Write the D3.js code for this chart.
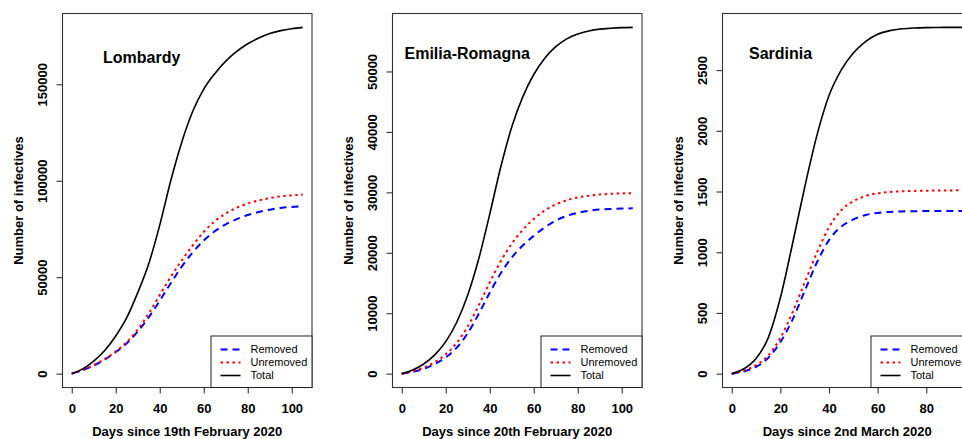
<!DOCTYPE html>
<html>
<head>
<meta charset="utf-8">
<script src="https://cdn.jsdelivr.net/npm/d3@7/dist/d3.min.js"></script>
<style>
    body { margin: 0; background: #fff; }
    svg { display: block; font-family: "Liberation Sans", Arial, sans-serif; }
</style>
</head>
<body>
<svg class="chart"></svg>
<script>
// days since start, sampled every 5 days
var days = [0, 5, 10, 15, 20, 25, 30, 35, 40, 45, 50, 55, 60, 65, 70, 75, 80, 85, 90, 95, 100, 105];
var daysSardinia = [0, 5, 10, 15, 20, 25, 30, 35, 40, 45, 50, 55, 60, 65, 70, 75, 80, 85, 90, 95];

var xTicks = [0, 20, 40, 60, 80, 100];
var legendLabels = ['Removed', 'Unremoved', 'Total'];

var lombardyRemoved = [0, 1800, 4200, 7300, 11200, 15800, 21800, 29200, 37800, 46900, 55500, 62900, 69000, 73800, 77400, 80100, 82200, 83800, 85000, 85900, 86400, 86700];
var lombardyUnremoved = [0, 1900, 4400, 7600, 11500, 16400, 22900, 31200, 40700, 50200, 58700, 66500, 73500, 79000, 83000, 86000, 88200, 89800, 91000, 91900, 92400, 92800];
var lombardyTotal = [0, 2500, 6500, 12000, 19500, 29000, 42000, 57000, 77000, 100000, 120000, 136000, 147500, 155500, 162000, 167000, 171000, 174000, 176300, 177800, 178800, 179500];
var lombardyTicks = [0, 50000, 100000, 150000];

var emiliaRemoved = [0, 300, 800, 1600, 2700, 4300, 6700, 9900, 13400, 16600, 19200, 21200, 22800, 24200, 25300, 26100, 26600, 26950, 27150, 27250, 27320, 27350];
var emiliaUnremoved = [0, 400, 1000, 1900, 3200, 5100, 7800, 11300, 15100, 18600, 21500, 23800, 25600, 27000, 28000, 28700, 29150, 29450, 29650, 29750, 29820, 29870];
var emiliaTotal = [0, 600, 1600, 3100, 5300, 8500, 13000, 19000, 26400, 34200, 40800, 45800, 49500, 52200, 54100, 55400, 56200, 56700, 57000, 57150, 57250, 57300];
var emiliaTicks = [0, 10000, 20000, 30000, 40000, 50000];

var sardiniaRemoved = [0, 18, 55, 130, 260, 445, 680, 915, 1100, 1210, 1270, 1306, 1324, 1332, 1336, 1338, 1339, 1339, 1339, 1339];
var sardiniaUnremoved = [0, 25, 70, 150, 295, 505, 750, 995, 1205, 1345, 1420, 1463, 1485, 1496, 1502, 1505, 1507, 1508, 1509, 1510];
var sardiniaTotal = [0, 40, 125, 295, 625, 1070, 1535, 1960, 2290, 2500, 2640, 2735, 2795, 2825, 2840, 2847, 2850, 2851, 2852, 2852];
var sardiniaTicks = [0, 500, 1000, 1500, 2000, 2500];

var config = {
    width: 962,
    height: 439,
    panelStep: 330,
    left: 62.5,
    top: 13.5,
    plotWidth: 249.5,
    plotHeight: 374
};

// removed, unremoved, total
var seriesStyle = [
    { color: '#0000ff', dash: '7,5', width: 2 },
    { color: '#ff0000', dash: '2.5,3.5', width: 2 },
    { color: '#000000', dash: null, width: 1.6 }
];

var panels = [
    { region: 'Lombardy', xLabel: 'Days since 19th February 2020', days: days,
      series: [lombardyRemoved, lombardyUnremoved, lombardyTotal], yTicks: lombardyTicks, titleX: 40.5, titleY: 49 },
    { region: 'Emilia-Romagna', xLabel: 'Days since 20th February 2020', days: days,
      series: [emiliaRemoved, emiliaUnremoved, emiliaTotal], yTicks: emiliaTicks, titleX: 12, titleY: 45 },
    { region: 'Sardinia', xLabel: 'Days since 2nd March 2020', days: daysSardinia,
      series: [sardiniaRemoved, sardiniaUnremoved, sardiniaTotal], yTicks: sardiniaTicks, titleX: 26.5, titleY: 45 }
];

var svg = d3.select('.chart')
    .attr('width', config.width)
    .attr('height', config.height);

svg.append('rect')
    .attr('width', config.width)
    .attr('height', config.height)
    .attr('fill', '#fff');

panels.forEach(drawPanel);

// R-style 4% padding of the range
function pad(ext) {
    var d = (ext[1] - ext[0]) * 0.04;
    return [ext[0] - d, ext[1] + d];
}

function drawPanel(p, i) {
    var g = svg.append('g')
        .attr('transform', 'translate(' + (config.left + i * config.panelStep) + ',' + config.top + ')');

    var x = d3.scaleLinear()
        .domain(pad(d3.extent(p.days)))
        .range([0, config.plotWidth]);
    var y = d3.scaleLinear()
        .domain(pad([0, d3.max(p.series, function(s) { return d3.max(s); })]))
        .range([config.plotHeight, 0]);

    var line = d3.line()
        .x(function(d, j) { return x(p.days[j]); })
        .y(function(d) { return y(d); })
        .curve(d3.curveMonotoneX);

    p.series.forEach(function(s, k) {
        g.append('path')
            .datum(s)
            .attr('d', line)
            .attr('fill', 'none')
            .attr('stroke', seriesStyle[k].color)
            .attr('stroke-width', seriesStyle[k].width)
            .attr('stroke-dasharray', seriesStyle[k].dash);
    });

    g.append('rect')
        .attr('width', config.plotWidth)
        .attr('height', config.plotHeight)
        .attr('fill', 'none')
        .attr('stroke', '#333')
        .attr('stroke-width', 1.1);

    var xAxis = g.append('g')
        .attr('transform', 'translate(0,' + config.plotHeight + ')')
        .call(d3.axisBottom(x)
            .tickValues(xTicks.filter(function(t) { return t <= x.domain()[1]; }))
            .tickSize(6)
            .tickSizeOuter(0));
    styleAxis(xAxis);
    xAxis.selectAll('text')
        .attr('y', 25.5)
        .attr('dy', null);

    var yAxis = g.append('g')
        .call(d3.axisLeft(y)
            .tickValues(p.yTicks)
            .tickFormat(d3.format('d'))
            .tickSize(6)
            .tickSizeOuter(0));
    styleAxis(yAxis);
    yAxis.selectAll('text')
        .attr('x', null)
        .attr('dy', null)
        .attr('text-anchor', 'middle')
        .attr('transform', 'translate(-15.5,0) rotate(-90)');

    g.append('text')
        .attr('transform', 'translate(-40,' + config.plotHeight / 2 + ') rotate(-90)')
        .attr('text-anchor', 'middle')
        .attr('font-size', 13)
        .attr('font-weight', 'bold')
        .text('Number of infectives');

    g.append('text')
        .attr('x', config.plotWidth / 2)
        .attr('y', config.plotHeight + 48.5)
        .attr('text-anchor', 'middle')
        .attr('font-size', 13)
        .attr('font-weight', 'bold')
        .text(p.xLabel);

    g.append('text')
        .attr('x', p.titleX)
        .attr('y', p.titleY)
        .attr('font-size', 16)
        .attr('font-weight', 'bold')
        .text(p.region);

    drawLegend(g);
}

function styleAxis(axis) {
    axis.select('.domain').remove();
    axis.selectAll('line')
        .attr('stroke', '#333')
        .attr('stroke-width', 1.1);
    axis.selectAll('text')
        .attr('font-family', '"Liberation Sans", Arial, sans-serif')
        .attr('font-size', 13)
        .attr('font-weight', 'bold')
        .attr('fill', '#000');
}

function drawLegend(g) {
    var lg = g.append('g')
        .attr('transform', 'translate(' + (config.plotWidth - 101) + ',' + (config.plotHeight - 51.5) + ')');

    lg.append('rect')
        .attr('width', 101)
        .attr('height', 51.5)
        .attr('fill', '#fff')
        .attr('stroke', '#222')
        .attr('stroke-width', 1);

    var rows = lg.selectAll('g.row')
        .data(legendLabels)
        .enter().append('g')
        .attr('class', 'row')
        .attr('transform', function(d, k) { return 'translate(0,' + (13.5 + k * 13) + ')'; });

    rows.append('line')
        .attr('x1', 9.5)
        .attr('x2', 29.5)
        .attr('stroke', function(d, k) { return seriesStyle[k].color; })
        .attr('stroke-width', function(d, k) { return seriesStyle[k].width; })
        .attr('stroke-dasharray', function(d, k) { return seriesStyle[k].dash; });

    rows.append('text')
        .attr('x', 39.5)
        .attr('dy', '0.36em')
        .attr('font-size', 11)
        .text(function(d) { return d; });
}
</script>
</body>
</html>
